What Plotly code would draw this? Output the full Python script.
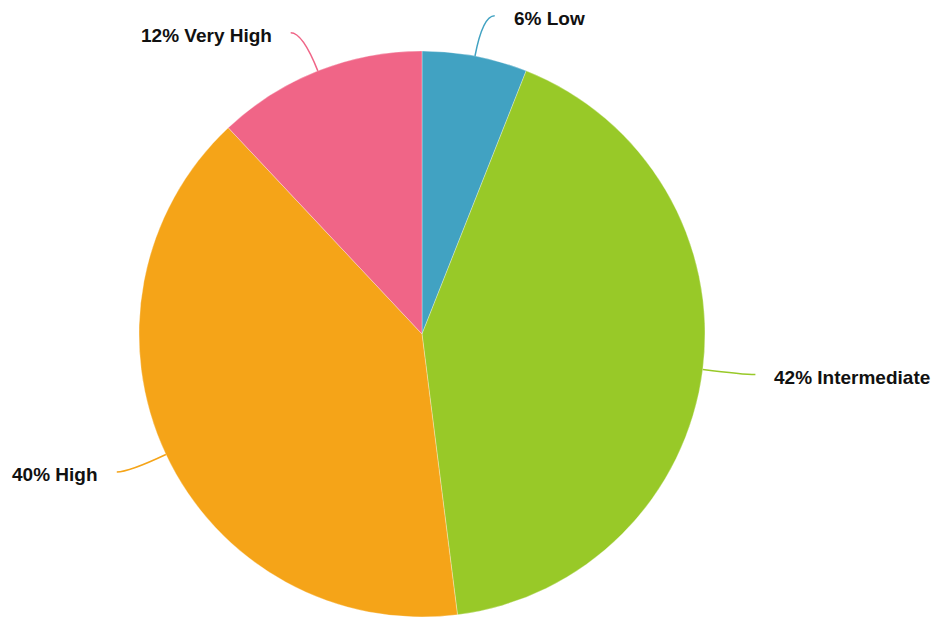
import math
import plotly.graph_objects as go

# ---- data ----
categories = ["Low", "Intermediate", "High", "Very High"]
values = [6, 42, 40, 12]
colors = ["#41A2C2", "#98C928", "#F5A418", "#F06587"]

# ---- layout constants ----
W, H = 932, 618
CX, CY, R = 422, 334, 283   # pie centre / radius in pixels
L1, L2, GAP = 41, 12, 17    # leader line radial length, horizontal length, text gap

fig = go.Figure()

fig.add_trace(go.Pie(
    labels=categories,
    values=values,
    marker=dict(colors=colors, line=dict(color="rgba(255,255,255,0.6)", width=0.5)),
    sort=False,
    direction="clockwise",
    rotation=0,
    textinfo="none",
    hoverinfo="label+percent",
    showlegend=False,
    domain=dict(x=[(CX - R) / W, (CX + R) / W], y=[1 - (CY + R) / H, 1 - (CY - R) / H]),
))

# hidden pixel-space axes for leader lines and labels
fig.add_trace(go.Scatter(x=[0], y=[0], mode="markers", marker=dict(opacity=0),
                         hoverinfo="skip", showlegend=False))

total = sum(values)
cum = 0
for cat, v, col in zip(categories, values, colors):
    mid = (cum + v / 2) / total * 2 * math.pi
    cum += v
    sx, sy = math.sin(mid), -math.cos(mid)
    x0, y0 = CX + R * sx, CY + R * sy
    x1, y1 = CX + (R + L1) * sx, CY + (R + L1) * sy
    side = 1 if sx >= 0 else -1
    x2, y2 = x1 + side * L2, y1
    fig.add_shape(type="path", xref="x", yref="y",
                  path=f"M {x0:.1f},{y0:.1f} Q {x1:.1f},{y1:.1f} {x2:.1f},{y2:.1f}",
                  line=dict(color=col, width=1.5))
    pct = round(v / total * 100)
    fig.add_annotation(x=x2 + side * GAP, y=y2 + 3, xref="x", yref="y",
                       text=f"<b>{pct}% {cat}</b>", showarrow=False,
                       xanchor="left" if side > 0 else "right", yanchor="middle",
                       font=dict(family="Liberation Sans, Arial, sans-serif", size=19, color="#111111"))

fig.update_layout(
    width=W, height=H,
    margin=dict(l=0, r=0, t=0, b=0),
    paper_bgcolor="white", plot_bgcolor="rgba(0,0,0,0)",
    xaxis=dict(range=[0, W], visible=False, fixedrange=True),
    yaxis=dict(range=[H, 0], visible=False, fixedrange=True),
)

fig.write_html("out.html")
